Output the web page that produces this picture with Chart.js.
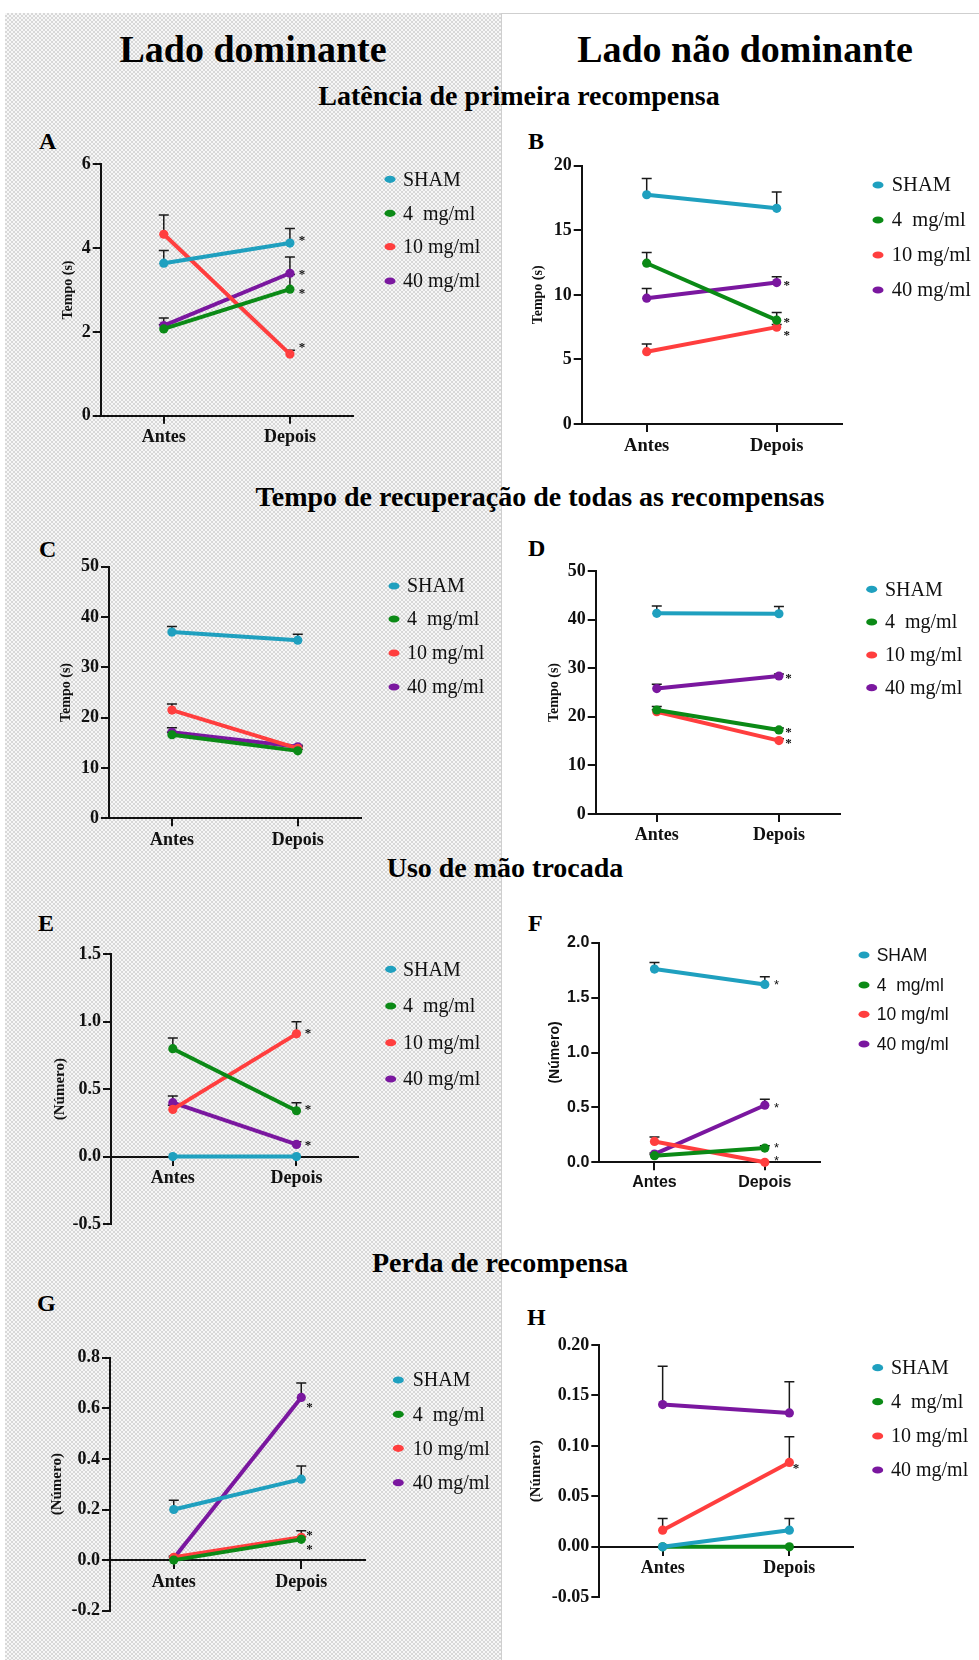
<!DOCTYPE html>
<html><head><meta charset="utf-8">
<script src="https://cdn.jsdelivr.net/npm/chart.js@4.4.1/dist/chart.umd.min.js"></script>
<style>
html,body{margin:0;padding:0;background:#fff;}
body{width:979px;height:1660px;position:relative;overflow:hidden;}
#leftbg{position:absolute;left:5px;top:13px;width:496px;height:1647px;background-color:#e8e8e8;
background-image:conic-gradient(#d8d8d8 25%,#f7f7f7 0 50%,#d8d8d8 0 75%,#f7f7f7 0);background-size:4px 4px;}
#rightbox{position:absolute;left:501px;top:13px;width:478px;height:1647px;border-left:1px solid #cfcfcf;border-top:1px solid #cfcfcf;background:#fff;}
.hd{position:absolute;font-family:'Liberation Serif','Times New Roman',serif;font-weight:bold;line-height:1;white-space:nowrap;color:#000;transform:translateX(-50%);}
.lt{position:absolute;font-family:'Liberation Serif','Times New Roman',serif;font-weight:bold;font-size:24px;line-height:1;color:#000;}
canvas{position:absolute;}
</style></head><body>
<div id="leftbg"></div><div id="rightbox"></div>
<div class="hd" style="left:253px;top:30px;font-size:38px;">Lado dominante</div>
<div class="hd" style="left:745px;top:30px;font-size:38px;">Lado não dominante</div>
<div class="hd" style="left:519px;top:82px;font-size:28px;">Latência de primeira recompensa</div>
<div class="hd" style="left:540px;top:483px;font-size:28px;">Tempo de recuperação de todas as recompensas</div>
<div class="hd" style="left:505px;top:854px;font-size:28px;">Uso de mão trocada</div>
<div class="hd" style="left:500px;top:1249px;font-size:28px;">Perda de recompensa</div>
<div class="lt" style="left:39px;top:129px;">A</div>
<div class="lt" style="left:528px;top:129px;">B</div>
<div class="lt" style="left:39px;top:537px;">C</div>
<div class="lt" style="left:528px;top:536px;">D</div>
<div class="lt" style="left:38px;top:911px;">E</div>
<div class="lt" style="left:528px;top:911px;">F</div>
<div class="lt" style="left:37px;top:1291px;">G</div>
<div class="lt" style="left:527px;top:1305px;">H</div>
<script>
// ---------- data ----------
const categories = ['Antes', 'Depois'];
const groups = ['SHAM', '4  mg/ml', '10 mg/ml', '40 mg/ml'];

// A: Latência de primeira recompensa – lado dominante, Tempo (s)
const A_sham = [3.64, 4.12], A_sham_sem = [0.30, 0.35];
const A_4 = [2.07, 3.02],   A_4_sem = [0.10, 0.35];
const A_10 = [4.33, 1.47],  A_10_sem = [0.46, 0.09];
const A_40 = [2.15, 3.40],  A_40_sem = [0.18, 0.39];
const A_sig = [1, 1, 1, 1];
const A_yticks = [0, 2, 4, 6], A_ylabels = ['0', '2', '4', '6'];

// B: Latência de primeira recompensa – lado não dominante, Tempo (s)
const B_sham = [17.75, 16.7], B_sham_sem = [1.25, 1.26];
const B_4 = [12.45, 8.04],    B_4_sem = [0.83, 0.59];
const B_10 = [5.6, 7.5],      B_10_sem = [0.6, 0.2];
const B_40 = [9.74, 10.95],   B_40_sem = [0.76, 0.45];
const B_sig = [0, 1, 1, 1];
const B_yticks = [0, 5, 10, 15, 20], B_ylabels = ['0', '5', '10', '15', '20'];

// C: Tempo de recuperação – lado dominante, Tempo (s)
const C_sham = [37.0, 35.4], C_sham_sem = [1.1, 1.2];
const C_4 = [16.6, 13.4],    C_4_sem = [0.5, 0.3];
const C_10 = [21.5, 13.9],   C_10_sem = [1.2, 0.3];
const C_40 = [17.1, 14.2],   C_40_sem = [0.9, 0.3];
const C_sig = [0, 0, 0, 0];
const C_yticks = [0, 10, 20, 30, 40, 50], C_ylabels = ['0', '10', '20', '30', '40', '50'];

// D: Tempo de recuperação – lado não dominante, Tempo (s)
const D_sham = [41.3, 41.2], D_sham_sem = [1.5, 1.5];
const D_4 = [21.4, 17.3],    D_4_sem = [0.7, 0.4];
const D_10 = [21.05, 15.1],  D_10_sem = [0.4, 0.4];
const D_40 = [25.8, 28.4],   D_40_sem = [0.9, 0.4];
const D_sig = [0, 1, 1, 1];
const D_yticks = [0, 10, 20, 30, 40, 50], D_ylabels = ['0', '10', '20', '30', '40', '50'];

// E: Uso de mão trocada – lado dominante, (Número)
const E_sham = [0, 0],       E_sham_sem = [0, 0];
const E_4 = [0.80, 0.34],    E_4_sem = [0.08, 0.06];
const E_10 = [0.35, 0.91],   E_10_sem = [0.03, 0.09];
const E_40 = [0.40, 0.09],   E_40_sem = [0.05, 0.02];
const E_sig = [0, 1, 1, 1];
const E_yticks = [-0.5, 0, 0.5, 1.0, 1.5], E_ylabels = ['-0.5', '0.0', '0.5', '1.0', '1.5'];

// F: Uso de mão trocada – lado não dominante, (Número)
const F_sham = [1.76, 1.62], F_sham_sem = [0.06, 0.07];
const F_4 = [0.06, 0.13],    F_4_sem = [0.01, 0.02];
const F_10 = [0.19, 0.0],    F_10_sem = [0.04, 0];
const F_40 = [0.075, 0.52],  F_40_sem = [0.01, 0.055];
const F_sig = [1, 1, 1, 1];
const F_yticks = [0, 0.5, 1.0, 1.5, 2.0], F_ylabels = ['0.0', '0.5', '1.0', '1.5', '2.0'];

// G: Perda de recompensa – lado dominante, (Número)
const G_sham = [0.20, 0.32],  G_sham_sem = [0.037, 0.052];
const G_4 = [0, 0.082],       G_4_sem = [0, 0.01];
const G_10 = [0.011, 0.09],   G_10_sem = [0.005, 0.026];
const G_40 = [0.007, 0.643],  G_40_sem = [0.005, 0.057];
const G_sig = [0, 1, 1, 1];
const G_yticks = [-0.2, 0, 0.2, 0.4, 0.6, 0.8], G_ylabels = ['-0.2', '0.0', '0.2', '0.4', '0.6', '0.8'];

// H: Perda de recompensa – lado não dominante, (Número)
const H_sham = [0, 0.0165],     H_sham_sem = [0, 0.0115];
const H_4 = [0, 0],             H_4_sem = [0, 0];
const H_10 = [0.0165, 0.0836],  H_10_sem = [0.0115, 0.0254];
const H_40 = [0.141, 0.1327],   H_40_sem = [0.038, 0.031];
const H_sig = [0, 0, 1, 0];
const H_yticks = [-0.05, 0, 0.05, 0.10, 0.15, 0.20], H_ylabels = ['-0.05', '0.00', '0.05', '0.10', '0.15', '0.20'];

// ---------- style ----------
const SERIF = "'Liberation Serif','Times New Roman',serif";
const SANS = "'Liberation Sans',Arial,sans-serif";
const colors = ['#1fa0bf', '#0b8a16', '#ff3e3e', '#7a179f'];

function makePanel(p) {
  const cv = document.createElement('canvas');
  cv.width = p.cw; cv.height = p.ch;
  Object.assign(cv.style, {left: p.cx + 'px', top: p.cy + 'px', width: p.cw + 'px', height: p.ch + 'px'});
  document.body.appendChild(cv);
  const a = p.area;
  const fam = p.sans ? SANS : SERIF;
  const tsz = p.titleSize;
  const padL = p.titleX - p.cx - tsz / 2;
  const yW = a.left - p.cx - padL;
  const padT = a.top - p.cy;
  const padR = p.cx + p.cw - a.right;
  const padB = p.zero ? (p.cy + p.ch - a.bottom) : 4;
  const xH = p.cy + p.ch - padB - a.bottom;

  const errorBars = {
    id: 'errorBars',
    beforeDatasetsDraw(chart) {
      const ctx = chart.ctx, ys = chart.scales.y;
      ctx.save(); ctx.strokeStyle = '#1a1a1a'; ctx.lineWidth = 1.5;
      chart.data.datasets.forEach((ds, i) => {
        const meta = chart.getDatasetMeta(i);
        meta.data.forEach((pt, j) => {
          const e = ds.err[j]; if (!e) return;
          const top = ys.getPixelForValue(ds.data[j] + e);
          ctx.beginPath();
          ctx.moveTo(pt.x, pt.y); ctx.lineTo(pt.x, top);
          ctx.moveTo(pt.x - 5, top); ctx.lineTo(pt.x + 5, top);
          ctx.stroke();
        });
      });
      ctx.restore();
    }
  };
  const stars = {
    id: 'stars',
    afterDatasetsDraw(chart) {
      const ctx = chart.ctx;
      ctx.save(); ctx.fillStyle = '#111';
      const fs = 13;
      ctx.font = (p.sans ? '' : 'bold ') + fs + 'px ' + fam;
      ctx.textAlign = 'center'; ctx.textBaseline = 'alphabetic';
      const k = p.sans ? 0.57 : 0.47;
      chart.data.datasets.forEach((ds, i) => {
        if (!ds.sig) return;
        const pt = chart.getDatasetMeta(i).data[1];
        ctx.fillText('*', pt.x + p.starDx, pt.y + p.starDy[i] + k * fs);
      });
      ctx.restore();
    }
  };
  const legendDraw = {
    id: 'legendDraw',
    afterDraw(chart) {
      const ctx = chart.ctx;
      ctx.save();
      ctx.font = p.legSize + 'px ' + fam;
      ctx.textBaseline = 'middle'; ctx.textAlign = 'left';
      chart.data.datasets.forEach((ds, i) => {
        const y = p.leg.rows[i] - p.cy;
        ctx.fillStyle = ds.borderColor;
        ctx.beginPath();
        ctx.ellipse(p.leg.mx - p.cx, y, 5.5, 3.6, 0, 0, Math.PI * 2);
        ctx.fill();
        ctx.fillStyle = '#111';
        ctx.fillText(ds.label, p.leg.tx - p.cx, y + 1);
      });
      ctx.restore();
    }
  };

  new Chart(cv, {
    type: 'line',
    data: {
      labels: categories,
      datasets: p.values.map((v, i) => ({
        label: groups[i], data: v, err: p.errs[i], sig: p.sig[i],
        borderColor: colors[i], backgroundColor: colors[i],
        pointBackgroundColor: colors[i], pointBorderColor: colors[i],
        borderWidth: 4, pointRadius: 4.6, pointBorderWidth: 0, pointHoverRadius: 4.6,
        tension: 0, fill: false, clip: false
      }))
    },
    options: {
      responsive: false, animation: false, devicePixelRatio: 1, events: [],
      layout: {padding: {left: padL, top: padT, right: padR, bottom: padB}},
      plugins: {legend: {display: false}, tooltip: {enabled: false}},
      scales: {
        x: {
          type: 'category', offset: true,
          position: p.zero ? {y: 0} : 'bottom',
          grid: {display: true, drawOnChartArea: false, drawTicks: true, tickLength: 8, color: '#111', lineWidth: 2, offset: false},
          border: {display: true, color: '#111', width: 2},
          ticks: {font: {family: fam, size: p.xSize, weight: 'bold'}, color: '#111', padding: 3, maxRotation: 0, autoSkip: false},
          afterFit: s => { if (!p.zero) s.height = xH; }
        },
        y: {
          type: 'linear', position: 'left',
          min: p.yticks[0], max: p.yticks[p.yticks.length - 1],
          afterBuildTicks: s => { s.ticks = p.yticks.map(v => ({value: v})); },
          ticks: {callback: (v, i) => p.ylabels[i], font: {family: fam, size: p.ySize, weight: 'bold'}, color: '#111', padding: 2},
          grid: {display: true, drawOnChartArea: false, drawTicks: true, tickLength: 8, color: '#111', lineWidth: 2},
          border: {display: true, color: '#111', width: 2},
          title: {display: true, text: p.title, color: '#111', padding: 0, font: {family: fam, size: tsz, weight: 'bold', lineHeight: 1}},
          afterFit: s => { s.width = yW; }
        }
      }
    },
    plugins: [errorBars, stars, legendDraw]
  });
}

const L = {cx: 15, cw: 485}, R = {cx: 503, cw: 476};

makePanel(Object.assign({}, L, {cy: 140, ch: 315,
  area: {left: 100.7, right: 353, top: 164.3, bottom: 415.7}, titleX: 68, titleSize: 14, title: 'Tempo (s)',
  values: [A_sham, A_4, A_10, A_40], errs: [A_sham_sem, A_4_sem, A_10_sem, A_40_sem], sig: A_sig,
  yticks: A_yticks, ylabels: A_ylabels, ySize: 18, xSize: 18, legSize: 20,
  starDx: 12, starDy: [-5, 2, -9, -1],
  leg: {mx: 390, tx: 403, rows: [179.3, 213.3, 246.7, 281]}}));

makePanel(Object.assign({}, R, {cy: 140, ch: 320,
  area: {left: 581.7, right: 841.7, top: 165.7, bottom: 424}, titleX: 538, titleSize: 14, title: 'Tempo (s)',
  values: [B_sham, B_4, B_10, B_40], errs: [B_sham_sem, B_4_sem, B_10_sem, B_40_sem], sig: B_sig,
  yticks: B_yticks, ylabels: B_ylabels, ySize: 18, xSize: 18.5, legSize: 20.5,
  starDx: 10, starDy: [0, 0, 6, 0],
  leg: {mx: 878, tx: 891.7, rows: [185, 220, 255, 290]}}));

makePanel(Object.assign({}, L, {cy: 540, ch: 320,
  area: {left: 109, right: 360.7, top: 566.7, bottom: 818.3}, titleX: 66, titleSize: 14, title: 'Tempo (s)',
  values: [C_sham, C_4, C_10, C_40], errs: [C_sham_sem, C_4_sem, C_10_sem, C_40_sem], sig: C_sig,
  yticks: C_yticks, ylabels: C_ylabels, ySize: 18, xSize: 18, legSize: 20,
  starDx: 10, starDy: [0, 0, 0, 0],
  leg: {mx: 394, tx: 407, rows: [586, 619, 653, 687]}}));

makePanel(Object.assign({}, R, {cy: 545, ch: 310,
  area: {left: 595.7, right: 840, top: 571, bottom: 814}, titleX: 554, titleSize: 14, title: 'Tempo (s)',
  values: [D_sham, D_4, D_10, D_40], errs: [D_sham_sem, D_4_sem, D_10_sem, D_40_sem], sig: D_sig,
  yticks: D_yticks, ylabels: D_ylabels, ySize: 18, xSize: 18, legSize: 20,
  starDx: 9.5, starDy: [0, 0, 0, 0],
  leg: {mx: 871.7, tx: 885, rows: [589.3, 622, 655, 687.7]}}));

makePanel(Object.assign({}, L, {cy: 925, ch: 320, zero: true,
  area: {left: 111, right: 358.3, top: 954.3, bottom: 1224}, titleX: 60, titleSize: 15, title: '(Número)',
  values: [E_sham, E_4, E_10, E_40], errs: [E_sham_sem, E_4_sem, E_10_sem, E_40_sem], sig: E_sig,
  yticks: E_yticks, ylabels: E_ylabels, ySize: 18, xSize: 18, legSize: 20,
  starDx: 11.6, starDy: [0, -4, -3, -2],
  leg: {mx: 390.7, tx: 403, rows: [969.3, 1006, 1042.7, 1079]}}));

makePanel(Object.assign({}, R, {cy: 915, ch: 290, sans: true,
  area: {left: 599.3, right: 820, top: 942.7, bottom: 1162.3}, titleX: 555, titleSize: 14, title: '(Número)',
  values: [F_sham, F_4, F_10, F_40], errs: [F_sham_sem, F_4_sem, F_10_sem, F_40_sem], sig: F_sig,
  yticks: F_yticks, ylabels: F_ylabels, ySize: 16, xSize: 16, legSize: 17.5,
  starDx: 11.7, starDy: [-3, -3, -5, -1],
  leg: {mx: 864, tx: 876.7, rows: [955, 985, 1014.3, 1044]}}));

makePanel(Object.assign({}, L, {cy: 1330, ch: 305, zero: true,
  area: {left: 110, right: 365, top: 1357.7, bottom: 1610.7}, titleX: 56.7, titleSize: 15, title: '(Número)',
  values: [G_sham, G_4, G_10, G_40], errs: [G_sham_sem, G_4_sem, G_10_sem, G_40_sem], sig: G_sig,
  yticks: G_yticks, ylabels: G_ylabels, ySize: 18, xSize: 18, legSize: 20,
  starDx: 8.3, starDy: [0, 8, -4, 7],
  leg: {mx: 398.3, tx: 412.7, rows: [1380, 1414.3, 1448.3, 1482.7]}}));

makePanel(Object.assign({}, R, {cy: 1320, ch: 300, zero: true,
  area: {left: 599.3, right: 852.7, top: 1345, bottom: 1597.3}, titleX: 536, titleSize: 15, title: '(Número)',
  values: [H_sham, H_4, H_10, H_40], errs: [H_sham_sem, H_4_sem, H_10_sem, H_40_sem], sig: H_sig,
  yticks: H_yticks, ylabels: H_ylabels, ySize: 18, xSize: 18, legSize: 20,
  starDx: 6.7, starDy: [0, 0, 3, 0],
  leg: {mx: 877.7, tx: 891, rows: [1367.7, 1401.7, 1436, 1470]}}));
</script>
</body></html>
